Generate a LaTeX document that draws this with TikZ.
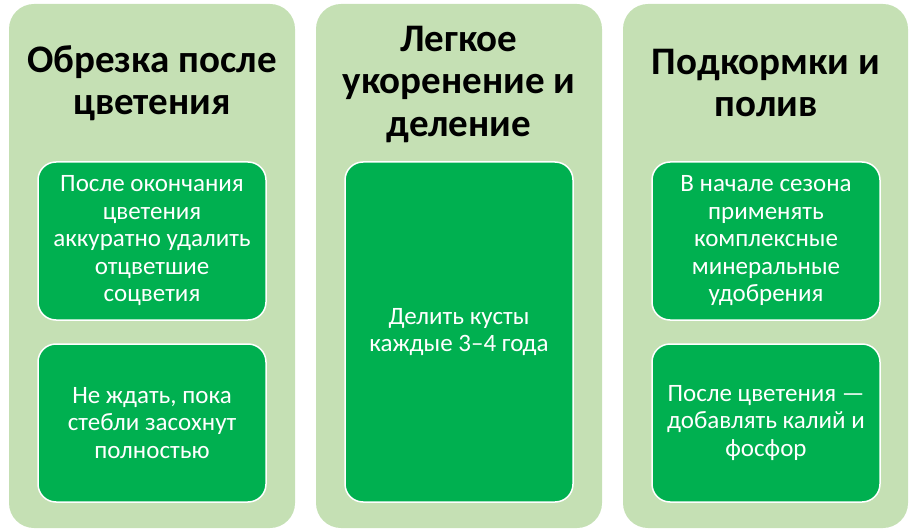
\documentclass[tikz,border=0pt]{standalone}
\usepackage{fontspec}
\setmainfont{Carlito}
\definecolor{colbg}{HTML}{C5E0B4}
\definecolor{boxbg}{HTML}{00B050}
\begin{document}
\begin{tikzpicture}[x=1pt,y=-1pt,
  column/.style={fill=colbg, rounded corners=25pt},
  itembox/.style={fill=boxbg, draw=white, line width=1.5pt, rounded corners=18pt},
  head/.style={font=\fontsize{39}{42.5}\selectfont\bfseries, align=center, text=black},
  itemtext/.style={font=\fontsize{25}{27.5}\selectfont, align=center, text=white}]
\useasboundingbox (0,0) rectangle (915,529);
% columns
\fill[column] (9,4) rectangle (295,528);
\fill[column] (316,4) rectangle (602,528);
\fill[column] (623,4) rectangle (908,528);
% boxes
\draw[itembox] (38,162) rectangle (266,320);
\draw[itembox] (38,344) rectangle (266,502);
\draw[itembox] (345,162) rectangle (573,502);
\draw[itembox] (652,162) rectangle (880,320);
\draw[itembox] (652,344) rectangle (880,502);
% headings
\node[head] (h1) at (152,83) {Обрезка после\\цветения};
\node[head] (h2) at (459,84) {Легкое\\укоренение и\\деление};
\node[head] (h3) at (766,83) {Подкормки и\\полив};
% texts
\node[itemtext] (t1) at (152,241) {После окончания\\цветения\\аккуратно удалить\\отцветшие\\соцветия};
\node[itemtext] (t2) at (152,423) {Не ждать, пока\\стебли засохнут\\полностью};
\node[itemtext] (t3) at (459,332) {Делить кусты\\каждые 3–4 года};
\node[itemtext] (t4) at (766,241) {В начале сезона\\применять\\комплексные\\минеральные\\удобрения};
\node[itemtext] (t5) at (766,423) {После цветения —\\добавлять калий и\\фосфор};
\end{tikzpicture}
\end{document}
